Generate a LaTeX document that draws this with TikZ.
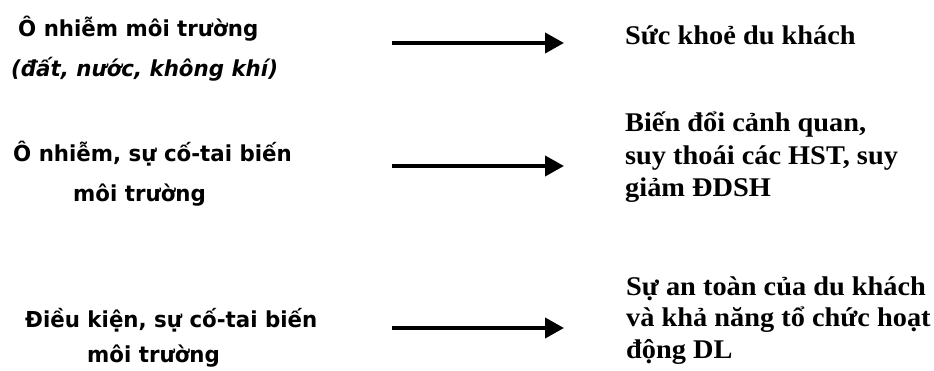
\documentclass[tikz,border=0pt]{standalone}
\usepackage{fontspec}
\setmainfont{Liberation Serif}
\newfontfamily\leftfont[FakeStretch=0.97]{DejaVu Sans}
\newfontfamily\rightfont[FakeStretch=1.05]{Liberation Serif}
\usetikzlibrary{arrows.meta}
\tikzset{
  lefttext/.style={anchor=base west, inner sep=0pt, font=\leftfont\bfseries\fontsize{22}{26}\selectfont},
  leftital/.style={lefttext, font=\leftfont\bfseries\itshape\fontsize{22}{26}\selectfont},
  righttext/.style={anchor=base west, inner sep=0pt, align=left, font=\rightfont\bfseries\fontsize{27}{32}\selectfont},
  bigarrow/.style={line width=4pt, -{Triangle[length=19pt,width=20pt]}}
}
\begin{document}
\begin{tikzpicture}[x=1pt,y=-1pt]
\useasboundingbox (0,0) rectangle (934,371);
% left column
\node[lefttext] (l1a) at (18,37) {Ô nhiễm môi trường};
\node[leftital] (l1b) at (11,77) {(đất, nước, không khí)};
\node[lefttext] (l2a) at (13,162) {Ô nhiễm, sự cố-tai biến};
\node[lefttext] (l2b) at (73,202) {môi trường};
\node[lefttext] (l3a) at (25,327) {Điều kiện, sự cố-tai biến};
\node[lefttext] (l3b) at (87,362) {môi trường};
% right column
\node[righttext] (r1) at (625,45) {Sức khoẻ du khách};
\node[righttext, font=\rightfont\bfseries\fontsize{27}{32.5}\selectfont] (r2) at (625,197) {Biến đổi cảnh quan,\\suy thoái các HST, suy\\giảm ĐDSH};
\node[righttext, font=\rightfont\bfseries\fontsize{27}{31.5}\selectfont] (r3) at (626,358) {Sự an toàn của du khách\\và khả năng tổ chức hoạt\\động DL};
% arrows
\coordinate (a1s) at (392,43); \coordinate (a1e) at (564,43);
\coordinate (a2s) at (392,166); \coordinate (a2e) at (564,166);
\coordinate (a3s) at (392,328); \coordinate (a3e) at (564,328);
\draw[bigarrow] (a1s) -- (a1e);
\draw[bigarrow] (a2s) -- (a2e);
\draw[bigarrow] (a3s) -- (a3e);
\end{tikzpicture}
\end{document}
